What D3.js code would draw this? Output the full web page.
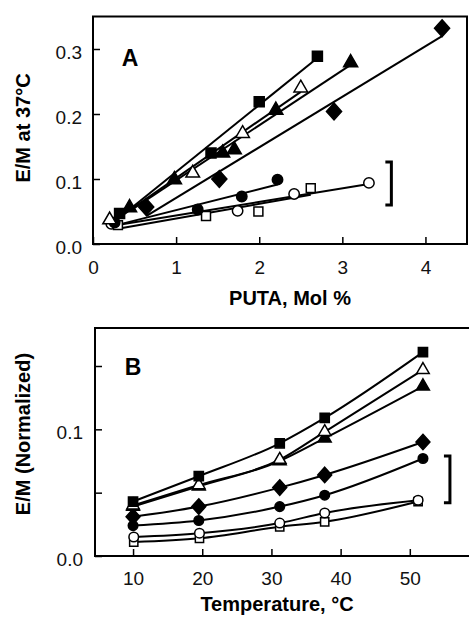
<!DOCTYPE html>
<html>
<head>
<meta charset="utf-8">
<script src="https://cdn.jsdelivr.net/npm/d3@7"></script>
<style>
  body { margin: 0; background: #fff; }
  svg { display: block; font-family: "Liberation Sans", Arial, sans-serif; }
</style>
</head>
<body>
<div id="chart-area"></div>
<script>

// ---- Panel A data: E/M at 37C vs PUTA (mol %) ----
var aFSquareX = [0.32, 1.42, 2.0, 2.7];
var aFSquareY = [0.047, 0.14, 0.219, 0.289];
var aOTriangleX = [0.2, 1.2, 1.8, 2.5];
var aOTriangleY = [0.037, 0.109, 0.17, 0.24];
var aFTriangleX = [0.44, 0.98, 1.56, 1.7, 2.2, 3.1];
var aFTriangleY = [0.056, 0.099, 0.14, 0.145, 0.206, 0.279];
var aFDiamondX = [0.64, 1.52, 2.9, 4.2];
var aFDiamondY = [0.057, 0.1, 0.204, 0.332];
var aFCircleX = [0.26, 1.26, 1.79, 2.22];
var aFCircleY = [0.033, 0.053, 0.073, 0.099];
var aOSquareX = [0.3, 1.36, 1.99, 2.62];
var aOSquareY = [0.029, 0.043, 0.05, 0.086];
var aOCircleX = [0.22, 1.74, 2.42, 3.32];
var aOCircleY = [0.031, 0.051, 0.077, 0.094];

var aTicksX = [0, 1, 2, 3, 4];
var aTickLabelsX = ["0", "1", "2", "3", "4"];
var aTicksY = [0, 0.1, 0.2, 0.3];
var aTickLabelsY = ["0.0", "0.1", "0.2", "0.3"];
var aBracket = [3.59, 0.06, 0.126];   // x, y bottom, y top

// ---- Panel B data: normalized E/M vs temperature ----
var bTemps = [10, 19.5, 31.2, 37.7, 51.9];
var bTempsOpen = [10.1, 19.6, 31.2, 37.7, 51.2];
var bFSquare = [0.043, 0.063, 0.089, 0.109, 0.161];
var bOTriangle = [0.040, 0.056, 0.076, 0.098, 0.147];
var bFTriangle = [0.039, 0.055, 0.075, 0.093, 0.134];
var bFDiamond = [0.031, 0.039, 0.054, 0.064, 0.090];
var bFCircle = [0.024, 0.028, 0.039, 0.048, 0.077];
var bOCircle = [0.015, 0.018, 0.026, 0.034, 0.044];
var bOSquare = [0.011, 0.014, 0.023, 0.027, 0.043];

var bTicksX = [10, 20, 30, 40, 50];
var bTickLabelsX = ["10", "20", "30", "40", "50"];
var bTicksY = [0, 0.05, 0.1, 0.15];
var bTickLabelsY = ["0.0", "", "0.1", ""];
var bBracket = [55.8, 0.042, 0.079];

var width = 469, height = 621;

var svg = d3.select("#chart-area")
    .append("svg")
    .attr("width", width)
    .attr("height", height);

svg.append("rect").attr("width", width).attr("height", height).attr("fill", "#fff");

// custom diamond (rotated square, slightly tall)
var diamond = {
    draw: function (ctx, size) {
        var w = Math.sqrt(size) * 0.72, h = Math.sqrt(size) * 0.8;
        ctx.moveTo(0, -h); ctx.lineTo(w, 0); ctx.lineTo(0, h); ctx.lineTo(-w, 0); ctx.closePath();
    }
};

var shapes = {
    fSquare: { type: d3.symbolSquare, fill: "#000", size: 100 },
    oSquare: { type: d3.symbolSquare, fill: "#fff", size: 80 },
    fTriangle: { type: d3.symbolTriangle, fill: "#000", size: 85 },
    oTriangle: { type: d3.symbolTriangle, fill: "#fff", size: 80 },
    fDiamond: { type: diamond, fill: "#000", size: 110 },
    fCircle: { type: d3.symbolCircle, fill: "#000", size: 85 },
    oCircle: { type: d3.symbolCircle, fill: "#fff", size: 85 }
};

function drawMarkers(g, pts, shape, x, y, scale) {
    var s = shapes[shape];
    g.selectAll(null)
        .data(pts)
        .enter().append("path")
        .attr("d", d3.symbol().type(s.type).size(s.size * (scale || 1)))
        .attr("transform", function (d) { return "translate(" + x(d[0]) + "," + y(d[1]) + ")"; })
        .attr("fill", s.fill)
        .attr("stroke", "#000")
        .attr("stroke-width", 1.5);
}

function frame(x0, y0, x1, y1) {
    svg.append("path")
        .attr("d", "M" + x0 + "," + y0 + "L" + x1 + "," + y0 + "L" + x1 + "," + y1 + "L" + x0 + "," + y1 + "Z")
        .attr("fill", "none")
        .attr("stroke", "#000")
        .attr("stroke-width", 2);
}

function bracket(x, yb, yt) {
    svg.append("path")
        .attr("d", "M" + (x - 6) + "," + yt + "L" + x + "," + yt + "L" + x + "," + yb + "L" + (x - 6) + "," + yb)
        .attr("fill", "none")
        .attr("stroke", "#000")
        .attr("stroke-width", 3);
}

function styleAxis(sel) {
    sel.select(".domain").remove();
    sel.selectAll(".tick line").attr("stroke", "#000").attr("stroke-width", 1.5);
    sel.selectAll(".tick text").attr("font-size", "19px").attr("fill", "#111");
}

// ================= Panel A =================
var xA = d3.scaleLinear().domain([0, 4.5]).range([93, 467]);
var yA = d3.scaleLinear().domain([0, 0.35]).range([244, 16.5]);

var gA = svg.append("g");

var seriesA = [
    { shape: "oCircle", xs: aOCircleX, ys: aOCircleY },
    { shape: "oSquare", xs: aOSquareX, ys: aOSquareY },
    { shape: "fCircle", xs: aFCircleX, ys: aFCircleY },
    { shape: "fDiamond", xs: aFDiamondX, ys: aFDiamondY },
    { shape: "oTriangle", xs: aOTriangleX, ys: aOTriangleY },
    { shape: "fTriangle", xs: aFTriangleX, ys: aFTriangleY },
    { shape: "fSquare", xs: aFSquareX, ys: aFSquareY }
];

// least-squares line through each series
seriesA.forEach(function (s) {
    var mx = d3.mean(s.xs), my = d3.mean(s.ys);
    var sxy = d3.sum(s.xs, function (v, i) { return (v - mx) * (s.ys[i] - my); });
    var sxx = d3.sum(s.xs, function (v) { return (v - mx) * (v - mx); });
    var slope = sxy / sxx, icpt = my - slope * mx;
    var x1 = d3.min(s.xs), x2 = d3.max(s.xs);
    gA.append("line")
        .attr("x1", xA(x1)).attr("y1", yA(icpt + slope * x1))
        .attr("x2", xA(x2)).attr("y2", yA(icpt + slope * x2))
        .attr("stroke", "#000")
        .attr("stroke-width", 2);
});
seriesA.forEach(function (s) {
    drawMarkers(gA, s.xs.map(function (v, i) { return [v, s.ys[i]]; }), s.shape, xA, yA, 1);
});

frame(93, 16.5, 467, 244);

svg.append("g")
    .attr("transform", "translate(0,244)")
    .call(d3.axisBottom(xA).tickValues(aTicksX).tickSizeInner(-7).tickSizeOuter(0).tickPadding(17)
        .tickFormat(function (d, i) { return aTickLabelsX[i]; }))
    .call(styleAxis);

svg.append("g")
    .attr("transform", "translate(93,0)")
    .call(d3.axisLeft(yA).tickValues(aTicksY).tickSizeInner(-7).tickSizeOuter(0).tickPadding(11)
        .tickFormat(function (d, i) { return aTickLabelsY[i]; }))
    .call(styleAxis)
    .selectAll(".tick text").attr("dy", "0.5em");

bracket(xA(aBracket[0]), yA(aBracket[1]), yA(aBracket[2]));

svg.append("text")
    .attr("x", 130).attr("y", 66)
    .attr("text-anchor", "middle")
    .attr("font-size", "23px").attr("font-weight", "bold")
    .text("A");

svg.append("text")
    .attr("x", 290).attr("y", 305)
    .attr("text-anchor", "middle")
    .attr("font-size", "20px").attr("font-weight", "bold")
    .text("PUTA, Mol %");

svg.append("text")
    .attr("transform", "translate(30,128) rotate(-90)")
    .attr("text-anchor", "middle")
    .attr("font-size", "20px").attr("font-weight", "bold")
    .text("E/M at 37°C");

// ================= Panel B =================
var xB = d3.scaleLinear().domain([4.5, 58.7]).range([95, 470]);
var yB = d3.scaleLinear().domain([0, 0.18]).range([556, 328]);

var gB = svg.append("g");

var seriesB = [
    { shape: "oSquare", xs: bTempsOpen, ys: bOSquare },
    { shape: "oCircle", xs: bTempsOpen, ys: bOCircle },
    { shape: "fCircle", xs: bTemps, ys: bFCircle },
    { shape: "fDiamond", xs: bTemps, ys: bFDiamond },
    { shape: "fTriangle", xs: bTemps, ys: bFTriangle },
    { shape: "oTriangle", xs: bTemps, ys: bOTriangle },
    { shape: "fSquare", xs: bTemps, ys: bFSquare }
];

var lineB = d3.line()
    .x(function (d) { return xB(d[0]); })
    .y(function (d) { return yB(d[1]); })
    .curve(d3.curveMonotoneX);

seriesB.forEach(function (s) {
    gB.append("path")
        .datum(s.xs.map(function (v, i) { return [v, s.ys[i]]; }))
        .attr("d", lineB)
        .attr("fill", "none")
        .attr("stroke", "#000")
        .attr("stroke-width", 2);
});
seriesB.forEach(function (s) {
    drawMarkers(gB, s.xs.map(function (v, i) { return [v, s.ys[i]]; }), s.shape, xB, yB, 0.85);
});

frame(95, 328, 470, 556);

svg.append("g")
    .attr("transform", "translate(0,556)")
    .call(d3.axisBottom(xB).tickValues(bTicksX).tickSizeInner(-7).tickSizeOuter(0).tickPadding(16)
        .tickFormat(function (d, i) { return bTickLabelsX[i]; }))
    .call(styleAxis);

svg.append("g")
    .attr("transform", "translate(95,0)")
    .call(d3.axisLeft(yB).tickValues(bTicksY).tickSizeInner(-7).tickSizeOuter(0).tickPadding(12)
        .tickFormat(function (d, i) { return bTickLabelsY[i]; }))
    .call(styleAxis)
    .selectAll(".tick text").attr("dy", "0.5em");

bracket(xB(bBracket[0]), yB(bBracket[1]), yB(bBracket[2]));

svg.append("text")
    .attr("x", 133).attr("y", 375)
    .attr("text-anchor", "middle")
    .attr("font-size", "23px").attr("font-weight", "bold")
    .text("B");

svg.append("text")
    .attr("x", 277).attr("y", 611)
    .attr("text-anchor", "middle")
    .attr("font-size", "20px").attr("font-weight", "bold")
    .text("Temperature, °C");

svg.append("text")
    .attr("transform", "translate(30,434) rotate(-90)")
    .attr("text-anchor", "middle")
    .attr("font-size", "20px").attr("font-weight", "bold")
    .text("E/M (Normalized)");

</script>
</body>
</html>
